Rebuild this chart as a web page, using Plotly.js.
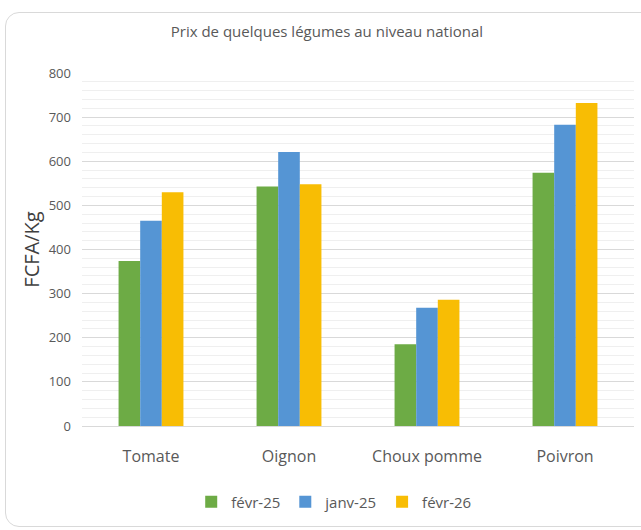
<!DOCTYPE html>
<html><head><meta charset="utf-8">
<script src="https://cdn.plot.ly/plotly-3.0.1.min.js"></script>
<style>
html,body{margin:0;padding:0;background:#fff;overflow:hidden;}
#frame{position:absolute;left:5px;top:12px;width:660px;height:515px;border:1px solid #d9d9d9;border-radius:14px;box-sizing:border-box;}
#chart{position:absolute;left:0;top:0;width:641px;height:530px;}
</style></head>
<body>
<div id="frame"></div>
<div id="chart"></div>
<script>
const categories = ["Tomate", "Oignon", "Choux pomme", "Poivron"];
const seriesNames = ["févr-25", "janv-25", "févr-26"];
const fev25 = [374, 543, 185, 574];
const jan25 = [465, 621, 268, 683];
const fev26 = [530, 548, 286, 732];
const colors = ["#6dab45", "#5595d4", "#f8bd04"];
const values = [fev25, jan25, fev26];

const font = "'Open Sans', sans-serif";
const traces = values.map((v, i) => ({
  type: "bar", x: categories, y: v, name: seriesNames[i],
  marker: {color: colors[i], line: {width: 0}},
  hoverinfo: "y"
}));

const layout = {
  width: 641, height: 530,
  paper_bgcolor: "rgba(0,0,0,0)", plot_bgcolor: "rgba(0,0,0,0)",
  margin: {l: 82, r: 7, t: 73, b: 104},
  barmode: "group", bargap: 0.53, bargroupgap: 0,
  title: {text: "Prix de quelques légumes au niveau national", x: 0.51, xanchor: "center", y: 0.94, yanchor: "middle",
          font: {family: font, size: 15, color: "#595959"}},
  xaxis: {type: "category", tickfont: {family: font, size: 16, color: "#595959"},
          showgrid: false, zeroline: false, showline: true, linecolor: "#d9d9d9", linewidth: 1,
          ticks: "", ticklabelstandoff: 16},
  yaxis: {range: [0, 800], dtick: 100, tickfont: {family: font, size: 13, color: "#595959"},
          gridcolor: "#d9d9d9", gridwidth: 1, zeroline: false, ticks: "", ticklabelstandoff: 10,
          minor: {dtick: 20, showgrid: true, gridcolor: "#efefef", gridwidth: 1},
          title: {text: "FCFA/Kg", font: {family: font, size: 20, color: "#404040"}, standoff: 3}},
  legend: {orientation: "h", x: 0.456, xanchor: "center", y: -0.215, yanchor: "middle",
           font: {family: font, size: 15, color: "#595959"}, itemwidth: 30, traceorder: "normal"},
  showlegend: true
};
Plotly.newPlot("chart", traces, layout, {displayModeBar: false, staticPlot: true});
</script>
</body></html>
